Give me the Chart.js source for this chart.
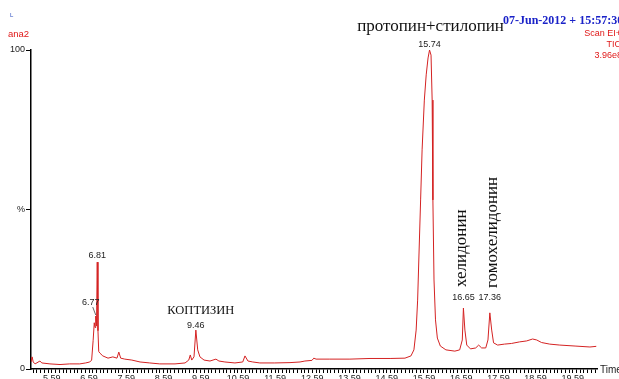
<!DOCTYPE html>
<html><head><meta charset="utf-8">
<script src="https://cdn.jsdelivr.net/npm/chart.js@4.4.1/dist/chart.umd.min.js"></script>
<style>html,body{margin:0;padding:0;overflow:hidden;background:#fff}canvas{display:block}</style>
</head><body>
<canvas id="c" width="619" height="392"></canvas>
<script>
// Retention times (min) and relative intensity (%)
const times = [5.03,5.06,5.09,5.14,5.27,5.32,5.54,5.81,6.07,6.34,6.50,6.61,6.66,6.70,6.73,6.75,6.77,6.79,6.81,6.83,6.85,6.88,6.96,7.10,7.23,7.34,7.39,7.44,7.55,7.74,7.96,8.22,8.49,8.90,9.17,9.27,9.31,9.35,9.41,9.46,9.51,9.57,9.68,9.84,10.00,10.08,10.24,10.51,10.72,10.78,10.86,10.99,11.18,11.58,11.99,12.26,12.39,12.58,12.63,12.69,13.06,13.60,14.14,14.68,15.08,15.24,15.32,15.38,15.42,15.46,15.50,15.54,15.60,15.65,15.70,15.74,15.78,15.81,15.83,15.86,15.90,15.95,16.03,16.18,16.42,16.55,16.62,16.65,16.69,16.74,16.84,16.98,17.06,17.14,17.25,17.31,17.36,17.41,17.46,17.57,17.75,17.94,18.16,18.35,18.51,18.62,18.75,18.97,19.24,19.65,20.05,20.22];
const intensity = [2.2,3.8,2.2,1.6,2.5,1.9,1.6,1.4,1.6,1.6,1.9,2.2,2.8,9.0,14.5,13.0,16.6,13.5,33.5,12.0,5.5,5.0,4.1,3.4,3.8,3.4,5.3,3.4,3.1,2.8,2.2,1.9,1.6,1.6,1.9,2.8,4.4,2.8,3.8,12.2,6.0,3.8,2.8,2.5,3.1,2.5,2.2,1.9,2.2,4.1,2.5,2.2,1.9,1.9,2.0,2.2,2.5,2.7,3.4,3.1,3.1,3.1,3.3,3.3,3.4,4.1,6.0,12.2,21.6,37.3,53.0,68.7,84.3,92.2,97.5,100,98.4,84.3,53.0,27.9,15.4,9.7,7.2,6.0,5.6,6.0,9.1,19.1,12.2,7.5,6.3,6.6,7.5,6.6,6.6,9.1,17.6,12.2,8.2,7.5,7.8,8.0,8.5,8.8,9.4,9.1,8.3,7.8,7.5,7.2,6.9,7.1];
const xLabelTimes = [5.59,6.59,7.59,8.59,9.59,10.59,11.59,12.59,13.59,14.59,15.59,16.59,17.59,18.59,19.59];
const yTickValues = [0,50,100];
const yTickLabels = ['0','%','100'];
const peakTimes = [6.77,6.81,9.46,15.74,16.65,17.36];
const peakLabels = ['6.77','6.81','9.46','15.74','16.65','17.36'];
const peakHeights = [16.6,33.5,12.2,100,19.1,17.6];
const compoundNames = ['КОПТИЗИН','протопин+стилопин','хелидонин','гомохелидонин'];
const compoundTimes = [9.46,15.74,16.65,17.36];

const points = times.map((t,i)=>({x:t,y:intensity[i]}));

const textPlugin = {
  id:'texts',
  afterDraw(chart){
    const ctx = chart.ctx, xs = chart.scales.x, ys = chart.scales.y;
    ctx.save();
    // header texts
    ctx.textBaseline='middle';
    ctx.fillStyle='#3050c0'; ctx.font='6px "Liberation Sans"'; ctx.textAlign='left';
    ctx.fillText('L',10,15);
    ctx.fillStyle='#e01818'; ctx.font='9.5px "Liberation Sans"';
    ctx.fillText('ana2',8,34);
    ctx.textAlign='right'; ctx.font='9px "Liberation Sans"';
    ctx.fillText('Scan EI+',621,34);
    ctx.fillText('TIC',621,45);
    ctx.fillText('3.96e8',622,56);
    ctx.textAlign='left'; ctx.textBaseline='alphabetic';
    ctx.fillStyle='#1a22c8'; ctx.font='bold 12px "Liberation Serif"';
    ctx.fillText('07-Jun-2012 + 15:57:30',503,24);
    // Time label
    ctx.fillStyle='#222'; ctx.font='10px "Liberation Sans"'; ctx.textBaseline='middle';
    ctx.fillText('Time',600,370);
    // peak labels
    ctx.font='9px "Liberation Sans"'; ctx.fillStyle='#222'; ctx.textAlign='center'; ctx.textBaseline='middle';
    peakTimes.forEach((t,i)=>{
      const px = xs.getPixelForValue(t), py = ys.getPixelForValue(peakHeights[i]);
      let lx=px, ly=py-7;
      if(peakLabels[i]==='6.77'){lx=px-5; ly=py-14;}
      if(peakLabels[i]==='16.65'||peakLabels[i]==='17.36'){ly=298;}
      if(peakLabels[i]==='9.46'){ly=py-5;}
      if(peakLabels[i]==='15.74'){ly=py-5;}
      ctx.fillText(peakLabels[i],lx,ly);
      if(peakLabels[i]==='6.77'){
        ctx.strokeStyle='#444'; ctx.lineWidth=0.8;
        ctx.beginPath(); ctx.moveTo(lx+2,ly+5); ctx.lineTo(px,py-1); ctx.stroke();
      }
    });
    // compound names
    ctx.fillStyle='#111'; ctx.textBaseline='alphabetic'; ctx.textAlign='center';
    ctx.font='12.5px "Liberation Serif"';
    ctx.fillText(compoundNames[0], xs.getPixelForValue(compoundTimes[0])+5, 314);
    ctx.font='17px "Liberation Serif"';
    ctx.fillText(compoundNames[1], xs.getPixelForValue(compoundTimes[1])+1, 31);
    ctx.textAlign='left';
    [[2,287,466],[3,288,496.5]].forEach(([k,yb,xb])=>{
      ctx.save(); ctx.translate(xb,yb); ctx.rotate(-Math.PI/2);
      ctx.fillText(compoundNames[k],0,0); ctx.restore();
    });
    ctx.restore();
  }
};

new Chart(document.getElementById('c'),{
  type:'line',
  data:{datasets:[{data:points,borderColor:'#d42222',borderWidth:1,pointRadius:0,tension:0,fill:false}]},
  options:{
    responsive:false,animation:false,
    layout:{padding:{top:50,right:22,left:0,bottom:0}},
    plugins:{legend:{display:false},tooltip:{enabled:false}},
    scales:{
      x:{type:'linear',min:5.03,max:20.24,
        afterFit(s){s.height=23;},
        afterBuildTicks(s){const arr=[];for(let k=-5;k<=146;k++){const v=5.59+k*0.1;if(v>5.03&&v<20.22)arr.push({value:+v.toFixed(2)});}s.ticks=arr;},
        ticks:{autoSkip:false,maxRotation:0,padding:0,color:'#222',font:{family:'"Liberation Sans"',size:9},
          callback(v){return xLabelTimes.some(t=>Math.abs(t-v)<1e-6)?v.toFixed(2):'';}},
        grid:{drawOnChartArea:false,drawTicks:true,tickLength:4,tickColor:'#000',tickWidth:1},
        border:{color:'#000',width:1.5}
      },
      y:{min:0,max:100,
        afterFit(s){s.width=31;},
        afterBuildTicks(s){s.ticks=yTickValues.map(v=>({value:v}));},
        ticks:{padding:1,color:'#222',font:{family:'"Liberation Sans"',size:9},
          callback(v){const i=yTickValues.indexOf(v);return i>=0?yTickLabels[i]:'';}},
        grid:{drawOnChartArea:false,drawTicks:true,tickLength:5,tickColor:'#000'},
        border:{color:'#000',width:1.5}
      }
    }
  },
  plugins:[textPlugin]
});
</script>
</body></html>
